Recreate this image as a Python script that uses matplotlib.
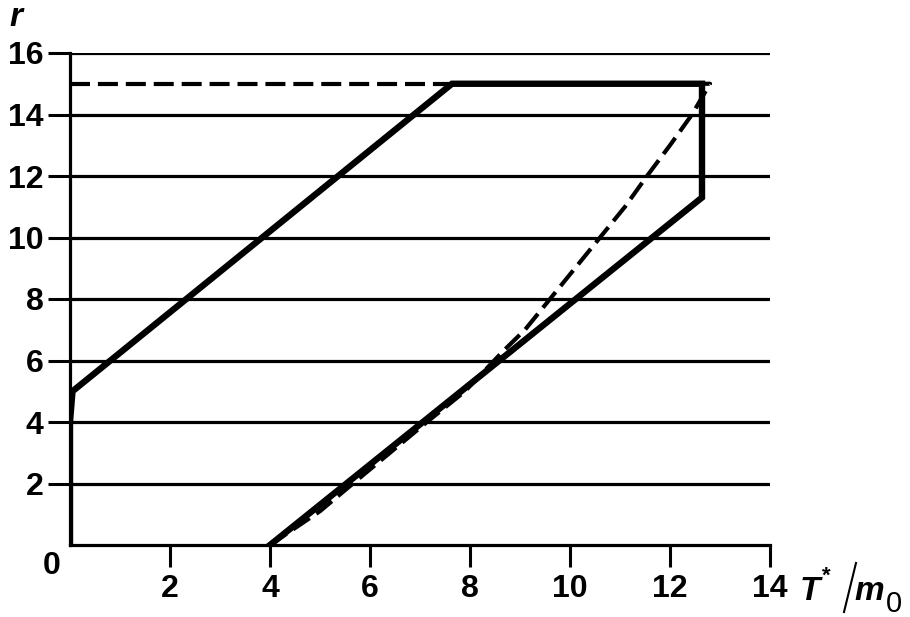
import matplotlib
matplotlib.use("Agg")
import matplotlib.pyplot as plt
from matplotlib.lines import Line2D

plt.rcParams['font.family'] = ['Liberation Sans', 'DejaVu Sans']
plt.rcParams['font.weight'] = 'bold'

# Solid boundary
solid_x = [0.0, 0.0, 0.05, 7.64, 12.64, 12.64, 4.0]
solid_y = [0.0, 4.0, 5.0, 15.0, 15.0, 11.3, 0.0]

# Dashed horizontal at top
dash_top_x = [0.0, 7.64]
dash_top_y = [15.0, 15.0]

# Dashed curve
dash_x = [4.0, 4.5, 5.0, 5.66, 6.4, 7.14, 7.9, 8.66, 9.1, 9.6, 10.1, 10.6, 11.1, 11.54, 12.0, 12.44, 12.8, 12.64]
dash_y = [0.0, 0.55, 1.1, 2.0, 3.0, 4.0, 5.0, 6.3, 7.0, 8.0, 9.0, 10.0, 11.0, 12.0, 13.0, 14.0, 15.0, 15.0]

x_ticks = [2, 4, 6, 8, 10, 12, 14]
y_ticks = [2, 4, 6, 8, 10, 12, 14, 16]

W, H = 910, 617
fig = plt.figure(figsize=(9.1, 6.17), dpi=100)
ax = fig.add_axes([70/W, 1-545/H, 700/W, (545-53)/H])
ax.set_xlim(0, 14)
ax.set_ylim(0, 16)

for yv in y_ticks:
    ax.axhline(yv, color='black', lw=2.3, zorder=1)

ax.plot(dash_top_x, dash_top_y, color='black', lw=3, linestyle=(0, (4.8, 1.9)), zorder=3)
ax.plot(dash_x, dash_y, color='black', lw=3, linestyle=(0, (4.8, 1.9)), zorder=3)
ax.plot(solid_x, solid_y, color='black', lw=4.6, solid_joinstyle='miter', zorder=4)

ax.spines['right'].set_visible(False)
ax.spines['top'].set_visible(False)
for s in ['left', 'bottom']:
    ax.spines[s].set_linewidth(2.3)

ax.set_xticks(x_ticks)
ax.set_yticks(y_ticks)
ax.set_xticklabels([str(v) for v in x_ticks])
ax.set_yticklabels([str(v) for v in y_ticks])
ax.tick_params(axis='both', direction='out', length=16, width=2.2, labelsize=23, colors='black')
ax.tick_params(axis='x', pad=5)
ax.tick_params(axis='y', pad=3)

fig.text(52/W, 1-566/H, '0', fontsize=23, fontweight='bold', ha='center', va='center')
fig.text(16/W, 1-17/H, 'r', fontsize=24, fontweight='bold', style='italic', ha='center', va='center')

# x-axis label T*/m0 assembled from parts
fig.text(800/W, 1-600/H, 'T', fontsize=24, fontweight='bold', style='italic', ha='left', va='baseline')
fig.text(822/W, 1-582/H, '*', fontsize=16, fontweight='bold', ha='left', va='baseline')
fig.add_artist(Line2D([844/W, 856/W], [1-612/H, 1-563/H], color='black', lw=1.5,
                      transform=fig.transFigure))
fig.text(854/W, 1-600/H, 'm', fontsize=24, fontweight='bold', style='italic', ha='left', va='baseline')
fig.text(886/W, 1-612/H, '0', fontsize=21, fontweight='normal', ha='left', va='baseline')

fig.savefig('out.png', dpi=100)
